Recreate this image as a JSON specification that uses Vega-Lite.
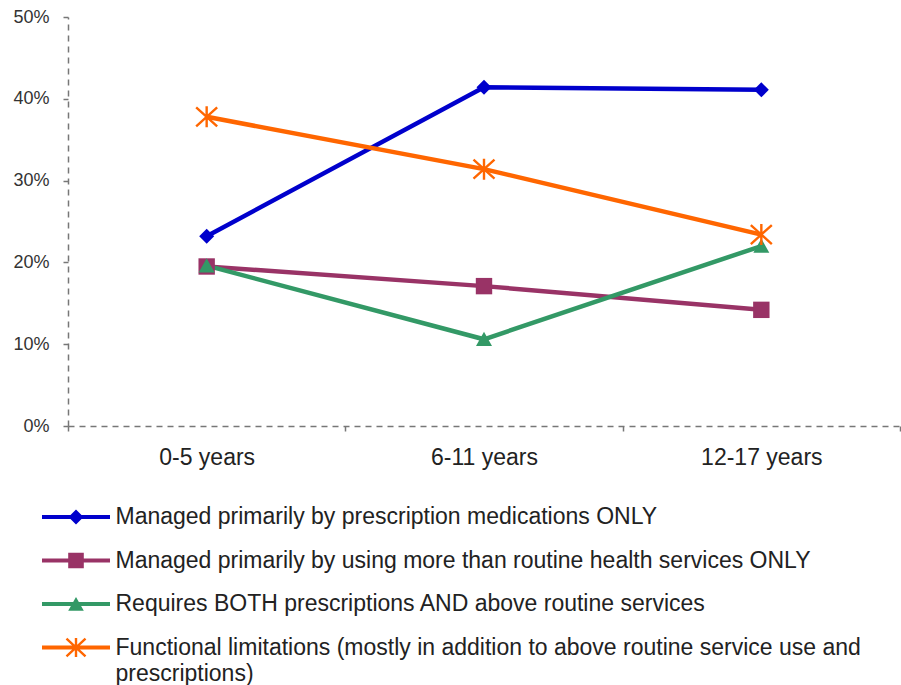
{
  "$schema": "https://vega.github.io/schema/vega-lite/v6.json",
  "width": 832,
  "height": 409,
  "autosize": {"type": "none"},
  "padding": {"left": 68, "top": 17, "right": 1, "bottom": 259},
  "background": "white",
  "config": {
    "view": {"stroke": null},
    "font": "Liberation Sans",
    "axis": {"labelFont": "Liberation Sans", "labelColor": "#222", "domainColor": "#777", "tickColor": "#777", "domainDash": [6, 5], "domainWidth": 1.5, "tickWidth": 1.5, "tickSize": 5, "grid": false, "title": null},
    "legend": {"labelFont": "Liberation Sans"}
  },
  "data": {
    "values": [
      {"series": "Managed primarily by prescription medications ONLY", "age": "0-5 years", "pct": 0.232},
      {"series": "Managed primarily by prescription medications ONLY", "age": "6-11 years", "pct": 0.414},
      {"series": "Managed primarily by prescription medications ONLY", "age": "12-17 years", "pct": 0.411},
      {"series": "Managed primarily by using more than routine health services ONLY", "age": "0-5 years", "pct": 0.195},
      {"series": "Managed primarily by using more than routine health services ONLY", "age": "6-11 years", "pct": 0.171},
      {"series": "Managed primarily by using more than routine health services ONLY", "age": "12-17 years", "pct": 0.142},
      {"series": "Requires BOTH prescriptions AND above routine services", "age": "0-5 years", "pct": 0.196},
      {"series": "Requires BOTH prescriptions AND above routine services", "age": "6-11 years", "pct": 0.106},
      {"series": "Requires BOTH prescriptions AND above routine services", "age": "12-17 years", "pct": 0.220},
      {"series": "Functional limitations (mostly in addition to above routine service use and prescriptions)", "age": "0-5 years", "pct": 0.378},
      {"series": "Functional limitations (mostly in addition to above routine service use and prescriptions)", "age": "6-11 years", "pct": 0.314},
      {"series": "Functional limitations (mostly in addition to above routine service use and prescriptions)", "age": "12-17 years", "pct": 0.234}
    ]
  },
  "encoding": {
    "x": {
      "field": "age", "type": "nominal", "sort": ["0-5 years", "6-11 years", "12-17 years"],
      "scale": {"type": "band", "paddingInner": 0, "paddingOuter": 0},
      "axis": {"labelAngle": 0, "tickBand": "extent", "labelFontSize": 23, "labelPadding": 15}
    },
    "y": {
      "field": "pct", "type": "quantitative",
      "scale": {"domain": [0, 0.5], "nice": false},
      "axis": {"values": [0, 0.1, 0.2, 0.3, 0.4, 0.5], "format": ".0%", "labelFontSize": 18, "labelPadding": 14, "labelColor": "#333"}
    }
  },
  "layer": [
    {
      "mark": {"type": "line", "strokeWidth": 4.5},
      "encoding": {
        "color": {
          "field": "series", "type": "nominal", "legend": null,
          "scale": {
            "domain": ["Managed primarily by prescription medications ONLY", "Managed primarily by using more than routine health services ONLY", "Requires BOTH prescriptions AND above routine services", "Functional limitations (mostly in addition to above routine service use and prescriptions)"],
            "range": ["#0000CC", "#993366", "#339966", "#FF6600"]
          }
        }
      }
    },
    {
      "mark": {"type": "point", "filled": true, "opacity": 1, "size": 400},
      "encoding": {
        "color": {
          "field": "series", "type": "nominal", "legend": null,
          "scale": {
            "domain": ["Managed primarily by prescription medications ONLY", "Managed primarily by using more than routine health services ONLY", "Requires BOTH prescriptions AND above routine services", "Functional limitations (mostly in addition to above routine service use and prescriptions)"],
            "range": ["#0000CC", "#993366", "#339966", "#FF6600"]
          }
        },
        "shape": {
          "field": "series", "type": "nominal", "legend": null,
          "scale": {
            "domain": ["Managed primarily by prescription medications ONLY", "Managed primarily by using more than routine health services ONLY", "Requires BOTH prescriptions AND above routine services", "Functional limitations (mostly in addition to above routine service use and prescriptions)"],
            "range": [
              "M-0.75,0L0,-0.75L0.75,0L0,0.75Z",
              "M-0.82,-0.82H0.82V0.82H-0.82Z",
              "M0,-0.75L0.8,0.68H-0.8Z",
              "M-0.12,-1.05H0.12V1.05H-0.12ZM-0.97,-1.039L1.13,0.861L0.97,1.039L-1.13,-0.861ZM1.13,-0.861L-0.97,1.039L-1.13,0.861L0.97,-1.039Z"
            ]
          }
        }
      }
    },
    {
      "mark": {"type": "point", "filled": true, "opacity": 0, "size": 400},
      "encoding": {
        "color": {
          "field": "series", "type": "nominal",
          "scale": {
            "domain": ["Managed primarily by prescription medications ONLY", "Managed primarily by using more than routine health services ONLY", "Requires BOTH prescriptions AND above routine services", "Functional limitations (mostly in addition to above routine service use and prescriptions)"],
            "range": ["#0000CC", "#993366", "#339966", "#FF6600"]
          },
          "legend": {
            "title": null, "orient": "none", "direction": "vertical", "legendX": -26, "legendY": 488.5,
            "padding": 0, "symbolSize": 400, "symbolStrokeWidth": 0, "symbolOffset": 22.5, "labelFontSize": 23, "labelColor": "#222", "labelLimit": 900, "labelOffset": 28, "rowPadding": 19.5,
            "labelExpr": "datum.label == 'Functional limitations (mostly in addition to above routine service use and prescriptions)' ? ['Functional limitations (mostly in addition to above routine service use and', 'prescriptions)'] : datum.label",
            "encode": {
              "symbols": {"update": {"opacity": {"value": 1}}},
              "labels": {"update": {"lineHeight": {"value": 26}}}
            }
          }
        },
        "shape": {
          "field": "series", "type": "nominal",
          "scale": {
            "domain": ["Managed primarily by prescription medications ONLY", "Managed primarily by using more than routine health services ONLY", "Requires BOTH prescriptions AND above routine services", "Functional limitations (mostly in addition to above routine service use and prescriptions)"],
            "range": [
              "M-3.4,-0.2H3.4V0.2H-3.4ZM-0.75,0L0,-0.75L0.75,0L0,0.75Z",
              "M-3.4,-0.2H3.4V0.2H-3.4ZM-0.78,-0.78H0.78V0.78H-0.78Z",
              "M-3.4,-0.2H3.4V0.2H-3.4ZM0,-0.71L0.78,0.68H-0.78Z",
              "M-3.4,-0.2H3.4V0.2H-3.4ZM-0.12,-0.95H0.12V0.95H-0.12ZM-0.871,-0.971L1.033,0.797L0.871,0.971L-1.033,-0.797ZM1.033,-0.797L-0.871,0.971L-1.033,0.797L0.871,-0.971Z"
            ]
          },
          "legend": {
            "title": null, "orient": "none", "direction": "vertical", "legendX": -26, "legendY": 488.5,
            "padding": 0, "symbolSize": 400, "symbolStrokeWidth": 0, "symbolOffset": 22.5, "labelFontSize": 23, "labelColor": "#222", "labelLimit": 900, "labelOffset": 28, "rowPadding": 19.5,
            "labelExpr": "datum.label == 'Functional limitations (mostly in addition to above routine service use and prescriptions)' ? ['Functional limitations (mostly in addition to above routine service use and', 'prescriptions)'] : datum.label",
            "encode": {
              "symbols": {"update": {"opacity": {"value": 1}}},
              "labels": {"update": {"lineHeight": {"value": 26}}}
            }
          }
        }
      }
    }
  ],
  "resolve": {"scale": {"color": "independent", "shape": "independent"}}
}
